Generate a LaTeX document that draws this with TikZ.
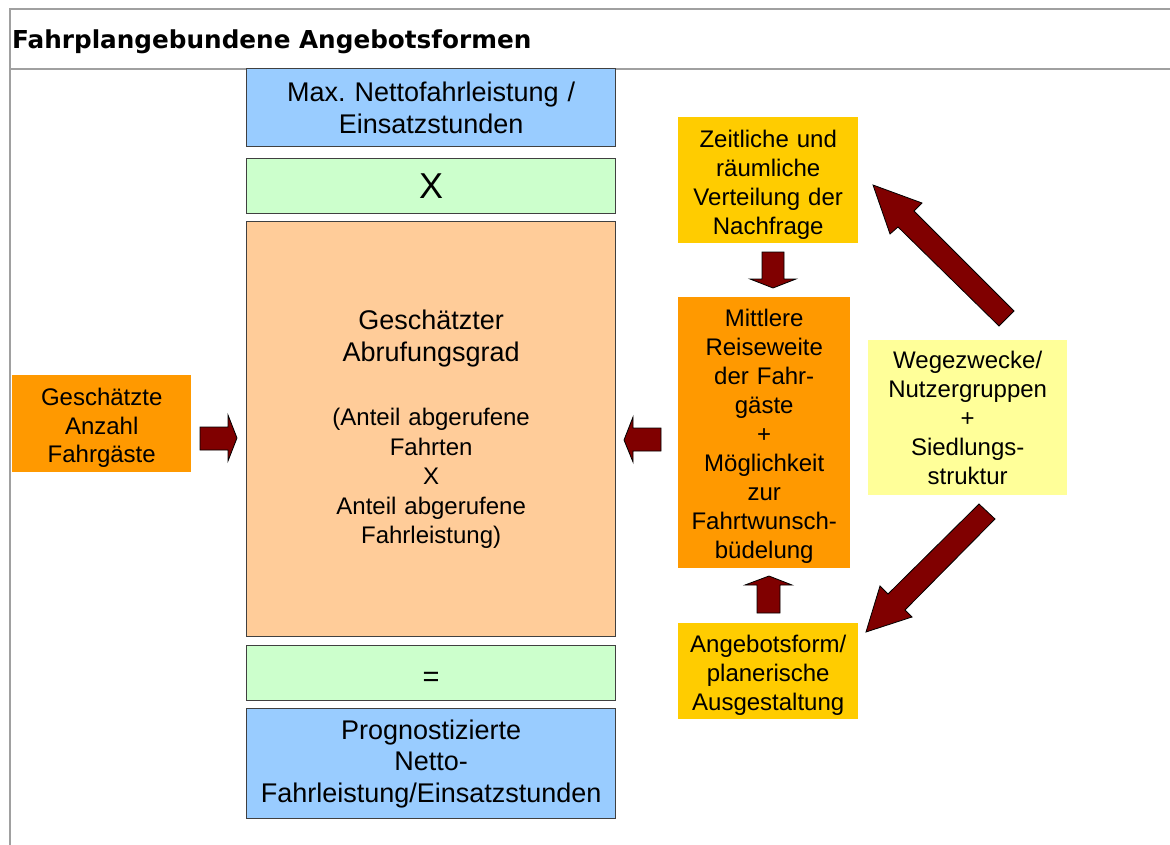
\documentclass[tikz,border=0pt]{standalone}
\usepackage{fontspec}
\setmainfont{Liberation Sans}
\newfontfamily\titlefont{DejaVu Sans}
\frenchspacing
\definecolor{cblue}{HTML}{99CCFF}
\definecolor{cgreen}{HTML}{CCFFCC}
\definecolor{cpeach}{HTML}{FFCC99}
\definecolor{corange}{HTML}{FF9900}
\definecolor{cyellow}{HTML}{FFCC00}
\definecolor{clyellow}{HTML}{FFFF99}
\definecolor{cdarkred}{HTML}{800000}
\definecolor{cborder}{HTML}{404040}
\definecolor{cgrid}{HTML}{A0A0A0}
\tikzset{
  grid line/.style={draw=cgrid, line width=2pt},
  framed/.style={draw=cborder, line width=1.3pt, inner sep=0pt, align=center, anchor=north west},
  plain/.style={inner sep=0pt, align=center, anchor=north west},
  bigfont/.style={font=\fontsize{27}{31.5}\selectfont},
  smallfont/.style={font=\fontsize{24}{29}\selectfont},
  barrow/.style={fill=cdarkred, draw=black, line width=0.8pt, line join=miter}
}
\begin{document}
\begin{tikzpicture}[x=1pt, y=-1pt]
\useasboundingbox (0,0) rectangle (1170,845);
% table lines
\draw[grid line] (9,9) -- (1170,9);
\draw[grid line] (10,9) -- (10,845);
\draw[grid line] (10,69) -- (1170,69);
\node[anchor=base west, inner sep=0pt, font=\titlefont\bfseries\fontsize{24.7}{28}\selectfont] (title) at (12,49) {Fahrplangebundene Angebotsformen};

% central column
\node[framed, bigfont, fill=cblue, text width=369pt, minimum height=78pt] (maxnetto) at (246,68)
  {Max. Nettofahrleistung /\\Einsatzstunden};
\node[framed, fill=cgreen, text width=369pt, minimum height=55pt, font=\fontsize{36}{38}\selectfont] (mal) at (246,158) {X};
\node[framed, fill=cpeach, text width=369pt, minimum height=415pt, smallfont] (abruf) at (246,221)
  {\fontsize{27}{32}\selectfont Geschätzter\\Abrufungsgrad\\[35pt]\fontsize{24}{29.5}\selectfont (Anteil abgerufene\\Fahrten\\X\\Anteil abgerufene\\Fahrleistung)};
\node[framed, fill=cgreen, minimum width=369pt, minimum height=55pt, font=\fontsize{29}{32}\selectfont] (gleich) at (246,645) {};
\node[font=\fontsize{29}{32}\selectfont, inner sep=0pt] (gleichtext) at ([yshift=-6pt]gleich.center) {=};
\node[framed, bigfont, fill=cblue, text width=369pt, minimum height=110pt] (prog) at (246,708)
  {Prognostizierte\\Netto-\\Fahrleistung/Einsatzstunden};

% left box
\node[plain, fill=corange, text width=179pt, minimum height=97pt, font=\fontsize{24}{28.5}\selectfont] (fahrgaeste) at (12,375)
  {\rule{0pt}{26pt}Geschätzte\\Anzahl\\Fahrgäste};

% right column
\node[plain, smallfont, fill=cyellow, text width=180pt, minimum height=126pt] (verteilung) at (678,117)
  {\rule{0pt}{26pt}Zeitliche und\\räumliche\\Verteilung der\\Nachfrage};
\node[plain, smallfont, fill=corange, text width=172pt, minimum height=271pt] (reiseweite) at (678,297)
  {\rule{0pt}{25pt}Mittlere\\Reiseweite\\der Fahr-\\gäste\\+\\Möglichkeit\\zur\\Fahrtwunsch-\\büdelung};
\node[plain, smallfont, fill=cyellow, text width=180pt, minimum height=96pt] (angebot) at (678,623)
  {\rule{0pt}{26pt}Angebotsform/\\planerische\\Ausgestaltung};
\node[plain, smallfont, fill=clyellow, text width=199pt, minimum height=155pt] (wege) at (868,340)
  {Wegezwecke/\\Nutzergruppen\\+\\Siedlungs-\\struktur};

% block arrows
\draw[barrow] (200,427) -- (228,427) -- (228,415) -- (237,438) -- (228,461) -- (228,450) -- (200,450) -- cycle;
\draw[barrow] (661,428) -- (633,428) -- (633,417) -- (624,440) -- (633,462) -- (633,451) -- (661,451) -- cycle;
\draw[barrow] (762,252) -- (784,252) -- (784,279) -- (796,279) -- (773,288) -- (750,279) -- (762,279) -- cycle;
\draw[barrow] (757,613) -- (780,613) -- (780,585) -- (792,585) -- (769,576) -- (745,585) -- (757,585) -- cycle;
\draw[barrow] (1014,311) -- (914,211) -- (922,203) -- (873,185) -- (890,234) -- (898,227) -- (999,326) -- cycle;
\draw[barrow] (979,504) -- (888,594) -- (880,586) -- (866,632) -- (912,617) -- (905,610) -- (995,519) -- cycle;
\end{tikzpicture}
\end{document}
